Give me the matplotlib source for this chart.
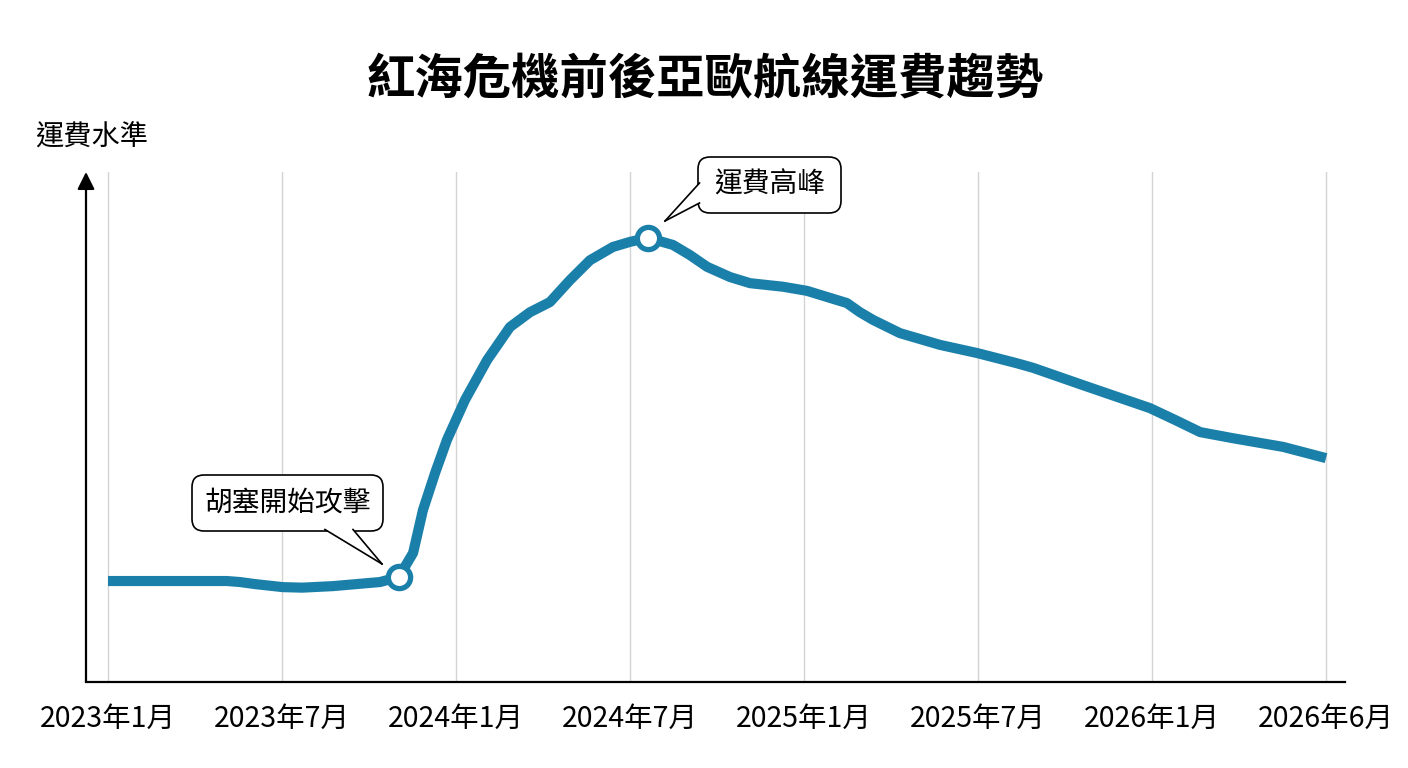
import matplotlib
matplotlib.use("Agg")
import matplotlib.pyplot as plt
from matplotlib.patches import FancyBboxPatch, Polygon
from matplotlib.lines import Line2D

plt.rcParams['font.family'] = ['Noto Sans CJK TC', 'DejaVu Sans']

# ---- data ----
title = "紅海危機前後亞歐航線運費趨勢"
y_label = "運費水準"
tick_positions = [0, 6, 12, 18, 24, 30, 36, 42]
tick_labels = ["2023年1月", "2023年7月", "2024年1月", "2024年7月",
               "2025年1月", "2025年7月", "2026年1月", "2026年6月"]
months = [0, 4.1, 4.55, 5.07, 6.03, 6.7, 7.76, 9.38, 10.03, 10.52, 10.86,
          11.28, 11.69, 12.31, 13.07, 13.86, 14.55, 15.24, 15.93, 16.62,
          17.41, 18.0, 18.62, 19.48, 20.07, 20.66, 21.45, 22.14, 23.28,
          24.10, 25.48, 25.93, 26.38, 27.31, 28.69, 29.97, 31.34, 31.90,
          33.62, 35.93, 36.79, 37.66, 38.79, 40.52, 42.0]
freight = [19.8, 19.8, 19.6, 19.2, 18.6, 18.5, 18.8, 19.6, 20.6, 25.3, 33.7,
           41.0, 47.5, 55.3, 63.1, 69.6, 72.5, 74.5, 78.8, 82.7,
           85.3, 86.3, 87.1, 85.7, 83.7, 81.4, 79.4, 78.2, 77.5,
           76.7, 74.3, 72.5, 71.0, 68.4, 66.1, 64.5, 62.5, 61.6,
           58.2, 53.7, 51.4, 49.0, 47.8, 46.1, 43.9]
event_labels = ["胡塞開始攻擊", "運費高峰"]
event_months = [10.03, 18.62]
event_values = [20.6, 87.1]

line_color = "#1a80aa"

fig = plt.figure(figsize=(14.08, 7.68), dpi=100)
ax = fig.add_axes([86 / 1408, 86 / 768, 1259 / 1408, 510 / 768])

ax.set_xlim(-0.7586, 42.655)
ax.set_ylim(0, 100)

for t in tick_positions:
    ax.axvline(t, color="#d4d4d4", lw=1.0, zorder=0)

ax.plot(months, freight, color=line_color, lw=7.3, solid_joinstyle="round",
        solid_capstyle="butt", zorder=3)
ax.plot(event_months, event_values, linestyle="none", marker="o",
        markersize=16, markerfacecolor="white", markeredgecolor=line_color,
        markeredgewidth=3.8, zorder=4)

for s in ["top", "right", "left"]:
    ax.spines[s].set_visible(False)
ax.spines["bottom"].set_linewidth(1.6)
ax.spines["bottom"].set_color("black")
ax.set_yticks([])
ax.set_xticks(tick_positions)
ax.set_xticklabels(tick_labels, fontsize=20.5)
ax.tick_params(axis="x", length=0, pad=16)

ax.annotate("", xy=(0, 1.0), xytext=(0, 0), xycoords="axes fraction",
            arrowprops=dict(arrowstyle="-|>", color="black", lw=1.6,
                            mutation_scale=26, shrinkA=0, shrinkB=0))

fig.text(705 / 1408, 1 - 80 / 768, title, ha="center", va="center",
         fontsize=34.8, fontweight="bold")
fig.text(92 / 1408, 1 - 137 / 768, y_label, ha="center", va="center",
         fontsize=20.3)

tr = fig.dpi_scale_trans


def callout(x0, y0, w, h, label, tail):
    box = FancyBboxPatch((x0, y0), w, h,
                         boxstyle="round,pad=0,rounding_size=0.12",
                         facecolor="white", edgecolor="black", lw=1.2,
                         transform=tr, zorder=5)
    fig.add_artist(box)
    b1, b2, tip = tail
    poly = Polygon([b1, b2, tip], closed=True, facecolor="white",
                   edgecolor="none", transform=tr, zorder=6)
    fig.add_artist(poly)
    for b in (b1, b2):
        fig.add_artist(Line2D([b[0], tip[0]], [b[1], tip[1]], color="black",
                              lw=1.2, transform=tr, zorder=7))
    fig.text(x0 + w / 2, y0 + h / 2, label, ha="center", va="center",
             fontsize=20, transform=tr, zorder=8)


callout(1.92, 2.37, 1.91, 0.56, event_labels[0],
        ((3.25, 2.385), (3.53, 2.385), (3.82, 2.04)))
callout(6.98, 5.55, 1.43, 0.56, event_labels[1],
        ((6.995, 5.85), (6.995, 5.65), (6.65, 5.47)))

fig.savefig("out.png", dpi=100, facecolor="white")
